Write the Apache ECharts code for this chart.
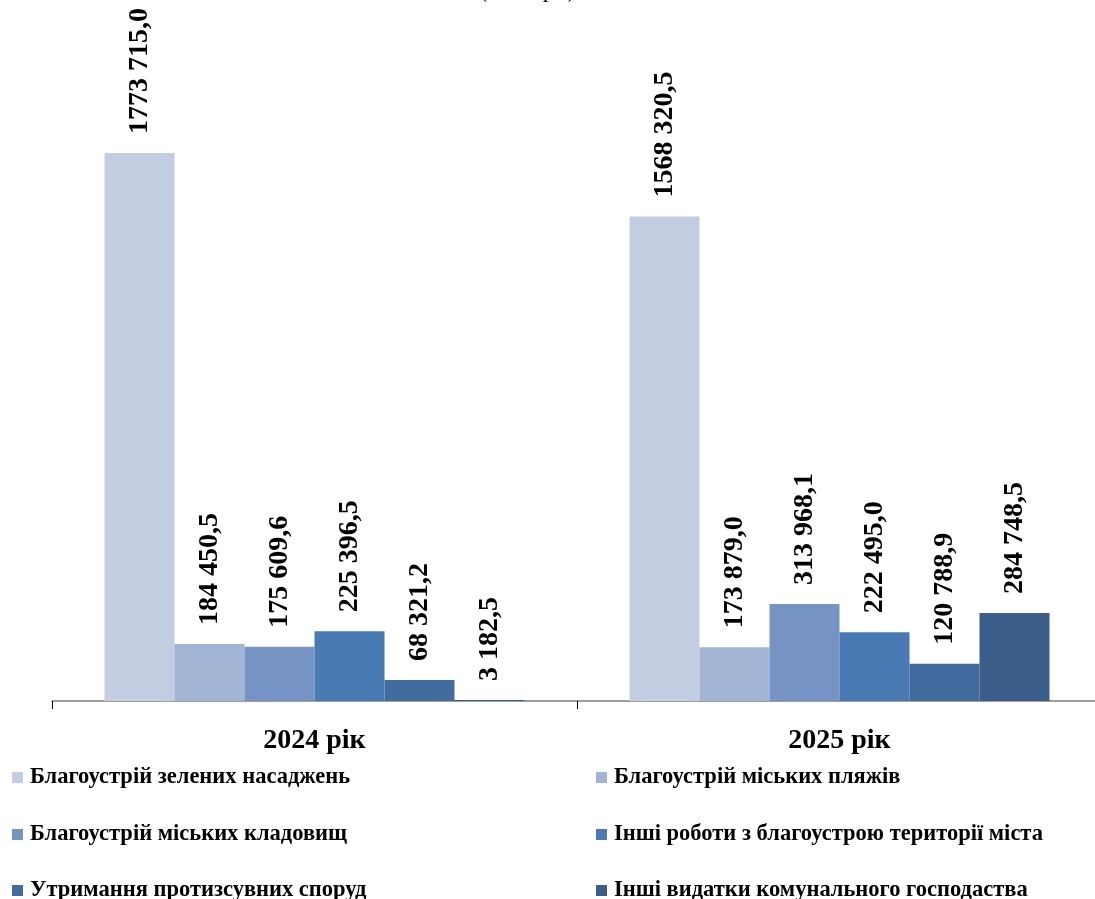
<!DOCTYPE html>
<html>
<head>
<meta charset="utf-8">
<script src="https://cdn.jsdelivr.net/npm/echarts@6/dist/echarts.min.js"></script>
<style>
html,body{margin:0;padding:0;background:#fff;overflow:hidden;}
#chart{width:1110px;height:899px;}
</style>
</head>
<body>
<div id="chart"></div>
<script>
const categories = ['2024 рік', '2025 рік'];
const seriesNames = [
  'Благоустрій зелених насаджень',
  'Благоустрій міських пляжів',
  'Благоустрій міських кладовищ',
  'Інші роботи з благоустрою території міста',
  'Утримання протизсувних споруд',
  'Інші видатки комунального господаства'
];
const greenery = [1773715.0, 1568320.5];
const beaches = [184450.5, 173879.0];
const cemeteries = [175609.6, 313968.1];
const otherWorks = [225396.5, 222495.0];
const landslide = [68321.2, 120788.9];
const otherExpenses = [3182.5, 284748.5];
const colors = ['#C3CDE2', '#A2B4D4', '#7594C4', '#4A7AB4', '#426CA0', '#3A5D8A'];

const allData = [greenery, beaches, cemeteries, otherWorks, landslide, otherExpenses];

function fmt(v) {
  const parts = v.toFixed(1).split('.');
  const ip = parts[0];
  let s = ip.length > 3 ? ip.slice(0, ip.length - 3) + ' ' + ip.slice(-3) : ip;
  return s + ',' + parts[1];
}

const FONT = '"Liberation Serif", "Times New Roman", serif';

const legendPos = [
  [12, 766], [596, 766],
  [12, 823], [596, 823],
  [12, 879], [596, 879]
];

const chart = echarts.init(document.getElementById('chart'));
chart.setOption({
  animation: false,
  backgroundColor: '#fff',
  title: {
    text: '(тис. грн)',
    left: 474,
    top: -26,
    textStyle: { fontFamily: FONT, fontSize: 24, fontWeight: 'normal', color: '#000' }
  },
  grid: { left: 52, right: 8, top: 83, bottom: 198, containLabel: false },
  legend: seriesNames.map((n, i) => ({
    data: [n],
    left: legendPos[i][0], top: legendPos[i][1],
    itemWidth: 11, itemHeight: 11, icon: 'rect', padding: 0,
    textStyle: { fontFamily: FONT, fontSize: 22.5, fontWeight: 'bold', color: '#000', padding: [0,0,0,2] }
  })),
  xAxis: {
    type: 'category',
    data: categories,
    axisLine: { lineStyle: { color: '#7f7f7f', width: 1.5 } },
    axisTick: { show: true, length: 8, lineStyle: { color: '#000' } },
    axisLabel: { fontFamily: FONT, fontSize: 28, fontWeight: 'bold', color: '#000', margin: 26 }
  },
  yAxis: {
    type: 'value', min: 0, max: 2000000,
    show: false, splitLine: { show: false }
  },
  series: allData.map((d, i) => ({
    name: seriesNames[i],
    type: 'bar',
    data: d,
    barGap: '0%',
    barCategoryGap: '20%',
    itemStyle: { color: colors[i] },
    label: {
      show: true,
      position: 'top',
      rotate: 90,
      align: 'left',
      verticalAlign: 'middle',
      distance: 19,
      fontFamily: FONT,
      fontSize: 28,
      fontWeight: 'bold',
      color: '#000',
      formatter: p => fmt(p.value)
    }
  }))
});
</script>
</body>
</html>
